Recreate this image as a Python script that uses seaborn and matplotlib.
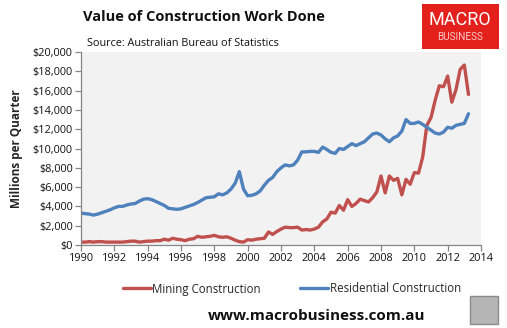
import numpy as np
import pandas as pd
import matplotlib
matplotlib.use("Agg")
import matplotlib.pyplot as plt
from matplotlib.patches import Rectangle
from matplotlib.ticker import FuncFormatter, MultipleLocator
import seaborn as sns

# Quarterly values, $ millions per quarter, from 1990 Q1
start_year = 1990.0
residential = [
    3300, 3250, 3200, 3100,
    3200, 3350, 3500, 3650,
    3850, 4000, 4000, 4150,
    4250, 4300, 4550, 4750,
    4800, 4700, 4500, 4300,
    4100, 3800, 3750, 3700,
    3750, 3900, 4050, 4200,
    4400, 4650, 4900, 4950,
    5000, 5300, 5200, 5400,
    5800, 6400, 7600, 5800,
    5100, 5150, 5300, 5600,
    6200, 6700, 7000, 7600,
    8000, 8300, 8200, 8300,
    8800, 9650, 9650, 9700,
    9700, 9600, 10150, 9900,
    9600, 9500, 10000, 9900,
    10200, 10500, 10300, 10500,
    10700, 11100, 11500, 11600,
    11400, 11000, 10700, 11100,
    11300, 11800, 13000, 12600,
    12600, 12750, 12500, 12200,
    11900, 11600, 11500, 11700,
    12200, 12100, 12400, 12500,
    12600, 13600,
]
mining = [
    300, 300, 350, 300,
    350, 350, 300, 300,
    300, 300, 300, 350,
    400, 400, 300, 350,
    400, 400, 450, 450,
    600, 500, 700, 600,
    550, 450, 600, 650,
    900, 800, 850, 900,
    1000, 850, 800, 850,
    700, 500, 350, 300,
    550, 500, 600, 650,
    700, 1350, 1100, 1400,
    1650, 1850, 1800, 1800,
    1850, 1550, 1600, 1550,
    1650, 1850, 2400, 2700,
    3400, 3300, 4100, 3600,
    4700, 4000, 4300, 4750,
    4600, 4460, 4900, 5500,
    7150, 5400, 7150, 6700,
    6900, 5200, 6800, 6300,
    7500, 7450, 9100, 12400,
    13200, 15000, 16500, 16400,
    17500, 14800, 16100, 18200,
    18650, 15600,
]
series_names = ["Mining Construction", "Residential Construction"]
series_colors = ["#c0504d", "#4f81bd"]
x_ticks = list(range(1990, 2015, 2))

years = start_year + 0.25 * np.arange(len(mining))
df = pd.concat([
    pd.DataFrame({"year": years, "value": mining, "series": series_names[0]}),
    pd.DataFrame({"year": years, "value": residential, "series": series_names[1]}),
])

sns.set_theme(style="white")
plt.rcParams["font.family"] = ["Open Sans", "DejaVu Sans"]

fig = plt.figure(figsize=(5.07, 3.28), dpi=100)
fig.patch.set_facecolor("white")
ax = fig.add_axes([81 / 507, 1 - 245 / 328, 400 / 507, 193 / 328])
ax.set_facecolor("#f2f2f2")

sns.lineplot(data=df, x="year", y="value", hue="series", hue_order=series_names,
             palette=series_colors, linewidth=2.4, ax=ax, legend=False)

ax.set_xlim(1990, 2014)
ax.set_ylim(0, 20000)
ax.set_xticks(x_ticks)
ax.yaxis.set_major_locator(MultipleLocator(2000))
ax.yaxis.set_major_formatter(FuncFormatter(lambda v, p: f"${v:,.0f}"))
ax.set_xlabel("")
ax.set_ylabel("Millions per Quarter", fontsize=8.5, fontweight="bold", labelpad=7)

for side in ["top", "right"]:
    ax.spines[side].set_visible(False)
for side in ["left", "bottom"]:
    ax.spines[side].set_color("#868686")
    ax.spines[side].set_linewidth(0.9)
ax.tick_params(axis="both", which="major", direction="out", length=4, width=0.9,
               color="#868686", labelsize=7.8, labelcolor="#111111", pad=2)
ax.tick_params(axis="x", bottom=True)
ax.tick_params(axis="y", left=True)

# Titles
fig.text(83 / 507, 1 - 17 / 328, "Value of Construction Work Done", fontsize=10.5,
         fontweight="bold", ha="left", va="center", color="#111111")
fig.text(87 / 507, 1 - 43 / 328, "Source: Australian Bureau of Statistics", fontsize=7.8,
         ha="left", va="center", color="#111111")

# Legend
handles = [plt.Line2D([], [], color=c, linewidth=2.4) for c in series_colors]
fig.legend(handles, series_names, loc="center", bbox_to_anchor=(292 / 507, 1 - 289 / 328),
           ncol=2, frameon=False, fontsize=8.3, handlelength=2.4, handletextpad=0.15,
           columnspacing=3.4)

# Footer web address
fig.text(317 / 507, 1 - 316 / 328, "www.macrobusiness.com.au", fontsize=11,
         fontweight="bold", ha="center", va="center", color="#111111")

# Brand block, top right
fig.patches.append(Rectangle((422 / 507, 1 - 49 / 328), 77 / 507, 45 / 328,
                             transform=fig.transFigure, facecolor="#e3201b",
                             edgecolor="none", zorder=5))
fig.text(460 / 507, 1 - 20 / 328, "MACRO", fontsize=13, color="white", ha="center",
         va="center", zorder=6, family=["Roboto", "DejaVu Sans"])
fig.text(460 / 507, 1 - 37 / 328, "BUSINESS", fontsize=7.2, color="#f6c9c7", ha="center",
         va="center", zorder=6, family=["Roboto", "DejaVu Sans"])

# Small badge, bottom right
fig.patches.append(Rectangle((470 / 507, 1 - 324 / 328), 28 / 507, 28 / 328,
                             transform=fig.transFigure, facecolor="#b5b5b5",
                             edgecolor="#8a8a8a", linewidth=1.0, zorder=5))

fig.savefig("out.png", dpi=100, facecolor="white")
